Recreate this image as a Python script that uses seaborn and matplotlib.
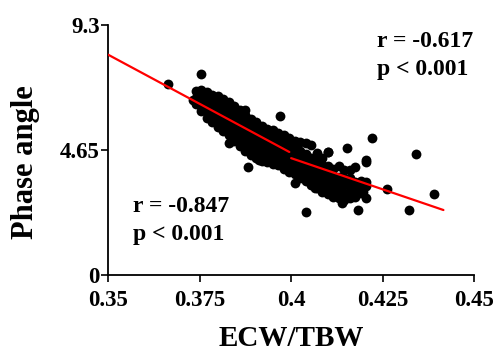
import matplotlib
matplotlib.use("Agg")
import matplotlib.pyplot as plt
import seaborn as sns
import pandas as pd

# ---- data ----
cloud = {
    0.3740: [6.35, 6.6, 6.85],
    0.3755: [6.1, 6.3, 6.5, 6.75, 6.9],
    0.3770: [5.85, 6.05, 6.3, 6.55, 6.8],
    0.3785: [5.7, 5.95, 6.2, 6.45, 6.7],
    0.3800: [5.5, 5.75, 6.0, 6.25, 6.5, 6.65],
    0.3815: [5.35, 5.6, 5.85, 6.1, 6.35, 6.55],
    0.3830: [5.2, 5.45, 5.7, 5.95, 6.2, 6.45],
    0.3845: [5.0, 5.3, 5.55, 5.8, 6.05, 6.3],
    0.3860: [4.8, 5.1, 5.4, 5.65, 5.9, 6.15],
    0.3875: [4.6, 4.9, 5.2, 5.45, 5.7, 5.95, 6.15],
    0.3890: [4.45, 4.75, 5.0, 5.3, 5.55, 5.8],
    0.3905: [4.35, 4.6, 4.9, 5.15, 5.4, 5.7],
    0.3920: [4.25, 4.5, 4.75, 5.0, 5.25, 5.55],
    0.3935: [4.2, 4.45, 4.7, 4.95, 5.2, 5.45],
    0.3950: [4.15, 4.4, 4.65, 4.9, 5.15, 5.4],
    0.3965: [4.1, 4.35, 4.6, 4.85, 5.05, 5.3],
    0.3980: [3.95, 4.2, 4.45, 4.7, 4.95, 5.2],
    0.3995: [3.85, 4.1, 4.35, 4.6, 4.85, 5.1],
    0.4010: [3.75, 4.0, 4.25, 4.5, 4.75, 5.0],
    0.4025: [3.6, 3.85, 4.1, 4.35, 4.6, 4.95],
    0.4040: [3.5, 3.75, 4.0, 4.25, 4.5, 4.9],
    0.4055: [3.35, 3.6, 3.85, 4.1, 4.35, 4.85],
    0.4070: [3.25, 3.5, 3.75, 4.0, 4.3, 4.55],
    0.4085: [3.1, 3.35, 3.6, 3.85, 4.1, 4.35],
    0.4100: [3.0, 3.3, 3.55, 3.8, 4.05, 4.57],
    0.4115: [2.9, 3.2, 3.45, 3.7, 3.95],
    0.4130: [2.85, 3.1, 3.4, 3.65, 4.05],
    0.4145: [2.8, 3.05, 3.35, 3.6, 3.9],
    0.4160: [2.85, 3.1, 3.35, 3.6, 3.9],
    0.4175: [2.9, 3.2, 3.45, 4.03],
    0.4190: [3.05, 3.35, 3.5],
    0.4205: [2.86, 3.3, 3.45, 4.27],
}
outlier_x = [0.3663, 0.3753, 0.3731, 0.3831, 0.3881, 0.3913, 0.3970, 0.4011,
             0.4041, 0.4102, 0.4152, 0.4222, 0.4182, 0.4261, 0.4341, 0.4321,
             0.4391, 0.4204, 0.4134, 0.4066, 0.4138, 0.4197]
outlier_y = [7.10, 7.50, 6.51, 4.92, 4.03, 4.30, 5.91, 3.41,
             2.33, 4.58, 4.71, 5.10, 2.42, 3.20, 4.50, 2.42,
             3.01, 4.21, 3.23, 3.23, 2.68, 3.09]

ecw_tbw = [x for x, ys in cloud.items() for _ in ys] + outlier_x
phase_angle = [y for ys in cloud.values() for y in ys] + outlier_y

fit1_x = [0.35, 0.3995]
fit1_y = [8.20, 4.58]
fit2_x = [0.400, 0.4416]
fit2_y = [4.35, 2.42]

x_ticks = [0.35, 0.375, 0.4, 0.425, 0.45]
x_tick_labels = ["0.35", "0.375", "0.4", "0.425", "0.45"]
y_ticks = [0, 4.65, 9.3]
y_tick_labels = ["0", "4.65", "9.3"]

# ---- plot ----
sns.set_style("ticks")
plt.rcParams["font.family"] = ["Liberation Serif", "DejaVu Serif"]
plt.rcParams["font.weight"] = "bold"
plt.rcParams["text.color"] = "black"
plt.rcParams["axes.labelcolor"] = "black"
plt.rcParams["xtick.color"] = "black"
plt.rcParams["ytick.color"] = "black"
plt.rcParams["axes.edgecolor"] = "black"

fig = plt.figure(figsize=(4.96, 3.54), dpi=100)
ax = fig.add_axes([0.218, 0.223, 0.738, 0.706])

df = pd.DataFrame({"ECW/TBW": ecw_tbw, "Phase angle": phase_angle})
sns.scatterplot(data=df, x="ECW/TBW", y="Phase angle", ax=ax,
                color="black", edgecolor="black", s=50, linewidth=0,
                zorder=2, clip_on=False)

f1 = pd.DataFrame({"x": fit1_x, "y": fit1_y})
f2 = pd.DataFrame({"x": fit2_x, "y": fit2_y})
sns.lineplot(data=f1, x="x", y="y", ax=ax, color="#ff0000", linewidth=1.6,
             estimator=None, zorder=3)
sns.lineplot(data=f2, x="x", y="y", ax=ax, color="#ff0000", linewidth=1.6,
             estimator=None, zorder=3)

ax.set_xlim(0.35, 0.45)
ax.set_ylim(0, 9.3)
ax.set_xticks(x_ticks)
ax.set_xticklabels(x_tick_labels)
ax.set_yticks(y_ticks)
ax.set_yticklabels(y_tick_labels)
for lab in ax.get_xticklabels() + ax.get_yticklabels():
    lab.set_fontweight("bold")
    lab.set_fontsize(16.5)
    lab.set_color("black")

ax.tick_params(axis="x", direction="out", length=5, width=1.2, pad=6, colors="black")
ax.tick_params(axis="y", direction="out", length=5, width=1.2, pad=1, colors="black")
for side in ["top", "right"]:
    ax.spines[side].set_visible(False)
for side in ["left", "bottom"]:
    ax.spines[side].set_linewidth(1.3)
    ax.spines[side].set_color("black")

ax.set_xlabel("ECW/TBW", fontsize=21, fontweight="bold", color="black")
ax.set_ylabel("Phase angle", fontsize=22, fontweight="bold", color="black")
ax.xaxis.set_label_coords(0.5, -0.2)
ax.yaxis.set_label_coords(-0.187, 0.45)

for (tx, ty, s) in [(0.068, 0.253, "r = -0.847"), (0.068, 0.14, "p < 0.001"),
                    (0.735, 0.913, "r = -0.617"), (0.735, 0.80, "p < 0.001")]:
    ax.text(tx, ty, s, transform=ax.transAxes, fontsize=17, color="black",
            fontweight="bold", va="baseline", ha="left")

fig.savefig("out.png", dpi=100)
